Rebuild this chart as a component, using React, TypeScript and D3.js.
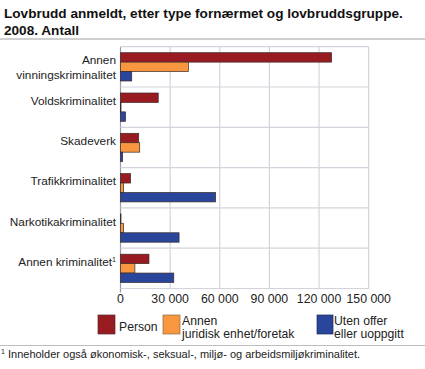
import React from "react";
import * as d3 from "d3";

const title1 = "Lovbrudd anmeldt, etter type fornærmet og lovbruddsgruppe.";
const title2 = "2008. Antall";
const categories = [
  ["Annen", "vinningskriminalitet"],
  ["Voldskriminalitet"],
  ["Skadeverk"],
  ["Trafikkriminalitet"],
  ["Narkotikakriminalitet"],
  ["Annen kriminalitet"],
];
const seriesNames = ["Person", "Annen juridisk enhet/foretak", "Uten offer eller uoppgitt"];
const person = [127600, 22800, 11000, 6100, 250, 17200];
const annen = [41000, 300, 11600, 1900, 1800, 8700];
const uten = [6800, 3100, 1300, 57500, 35400, 32200];
const ticks = [0, 30000, 60000, 90000, 120000, 150000];
const colors = ["#981b21", "#f8973f", "#2a469c"];
const footnote = "Inneholder også økonomisk-, seksual-, miljø- og arbeidsmiljøkriminalitet.";

export default function App() {
  const W = 425, H = 369;
  const left = 120.5, right = 368.7, top = 46.7, bottom = 288.5;
  const x = d3.scaleLinear().domain([0, 150000]).range([left, right]);
  const y = d3.scaleBand<number>().domain(d3.range(categories.length)).range([top, bottom]).paddingInner(0).paddingOuter(0);
  const inner = d3.scaleBand<number>().domain([0, 1, 2]).range([6, y.bandwidth() - 6]);
  const series = [person, annen, uten];
  const fmt = (v: number) => d3.format(",")(v).replace(/,/g, "\u00a0");
  const font = "'Liberation Sans', Arial, sans-serif";
  const grid = "#d3d4db";
  const fs = 11.8;

  return (
    <svg width={W} height={H} style={{ position: "absolute", left: 0, top: 0 }} fontFamily={font}>
      <rect width={W} height={H} fill="#fff" />
      <text x={4} y={18} fontSize={13.6} fontWeight="bold" fill="#111">{title1}</text>
      <text x={4} y={35} fontSize={13.6} fontWeight="bold" fill="#111">{title2}</text>
      <line x1={0} x2={W} y1={39} y2={39} stroke="#cfcfcf" strokeWidth={2} />

      {/* vertical grid */}
      {ticks.map((t) => (
        <line key={"v" + t} x1={x(t)} x2={x(t)} y1={top} y2={bottom + (t === 0 ? 4 : 0)} stroke={t === 0 ? "#9a9aa6" : grid} strokeWidth={1.2} />
      ))}
      {/* horizontal grid */}
      {categories.map((_, i) => (
        <line key={"h" + i} x1={left} x2={right} y1={y(i)!} y2={y(i)!} stroke={grid} strokeWidth={1.2} />
      ))}
      <line x1={left} x2={right} y1={bottom} y2={bottom} stroke={grid} strokeWidth={1.2} />

      {/* bars */}
      {categories.map((_, i) =>
        series.map((s, j) => (
          <rect
            key={`b${i}-${j}`}
            x={x(0)}
            y={y(i)! + inner(j)!}
            width={Math.max(0.5, x(s[i]) - x(0))}
            height={inner.bandwidth()}
            fill={colors[j]}
            stroke="#3a2a2a"
            strokeWidth={0.7}
          />
        ))
      )}

      {/* category labels */}
      {categories.map((c, i) => {
        const cy = y(i)! + y.bandwidth() / 2;
        if (c.length === 2) {
          return (
            <text key={"c" + i} x={116} textAnchor="end" fontSize={fs} fill="#222">
              <tspan x={116} y={cy - 2.5}>{c[0]}</tspan>
              <tspan x={116} y={cy + 12}>{c[1]}</tspan>
            </text>
          );
        }
        return (
          <text key={"c" + i} x={116} y={cy - 2.3} textAnchor="end" fontSize={fs} fill="#222">
            {c[0]}
            {i === 5 ? <tspan fontSize={7} dy={-4}>1</tspan> : null}
          </text>
        );
      })}

      {/* tick labels */}
      {ticks.map((t) => (
        <text key={"t" + t} x={x(t)} y={303} textAnchor="middle" fontSize={12.3} fill="#222">{fmt(t)}</text>
      ))}

      {/* legend */}
      <rect x={98} y={315} width={17} height={19} fill={colors[0]} stroke="#5a2a2a" strokeWidth={0.7} />
      <text x={119} y={331} fontSize={12.2} fill="#222">{seriesNames[0]}</text>
      <rect x={163} y={315} width={17} height={19} fill={colors[1]} stroke="#8a6a4a" strokeWidth={0.7} />
      <text x={182} y={325} fontSize={12.2} fill="#222">Annen</text>
      <text x={182} y={338} fontSize={12.2} fill="#222">juridisk enhet/foretak</text>
      <rect x={317} y={315} width={16} height={19} fill={colors[2]} stroke="#1a2a5a" strokeWidth={0.7} />
      <text x={334} y={325} fontSize={12.2} fill="#222">Uten offer</text>
      <text x={334} y={338} fontSize={12.2} fill="#222">eller uoppgitt</text>

      <line x1={0} x2={W} y1={345.5} y2={345.5} stroke="#bdbdbd" strokeWidth={1} />
      <text x={1} y={358} fontSize={11} fill="#222">
        <tspan fontSize={7} dy={-4}>1</tspan>
        <tspan dy={4}> {footnote}</tspan>
      </text>
    </svg>
  );
}
